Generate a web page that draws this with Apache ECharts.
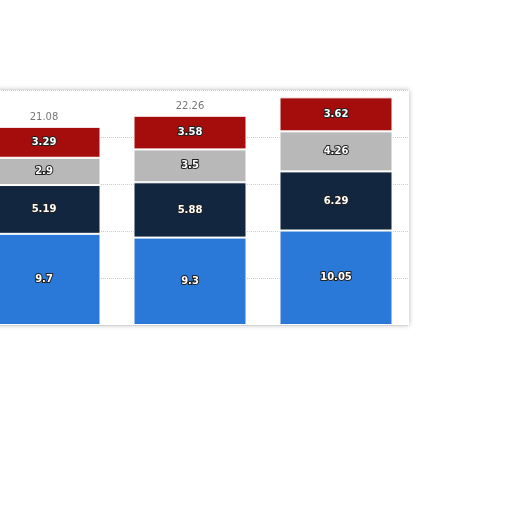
<!DOCTYPE html>
<html>
<head>
<meta charset="utf-8">
<script src="https://cdn.jsdelivr.net/npm/echarts@6/dist/echarts.min.js"></script>
<style>
    html, body { margin: 0; padding: 0; background: #fff; overflow: hidden; }
    /* the photo crops the first column, so the canvas starts a little left of the page */
    #chart { position: absolute; left: -29px; top: 0; width: 541px; height: 512px; }
</style>
</head>
<body>
<div id="chart"></div>
<script>
const categories = ["A", "B", "C"];
const blueValues = [9.7, 9.3, 10.05];
const navyValues = [5.19, 5.88, 6.29];
const grayValues = [2.9, 3.5, 4.26];
const redValues = [3.29, 3.58, 3.62];
const totals = [21.08, 22.26, 24.22];
const showTotal = [true, true, false];

const segLabel = {
    show: true,
    position: "inside",
    color: "#fff",
    fontFamily: "DejaVu Sans",
    fontWeight: "bold",
    fontSize: 10,
    textBorderColor: "#222",
    textBorderWidth: 2
};

function stackSeries(name, data, color) {
    return {
        name,
        type: "bar",
        stack: "total",
        barWidth: 113,
        data,
        itemStyle: { color, borderColor: "#fff", borderWidth: 1 },
        label: segLabel
    };
}

const chart = echarts.init(document.getElementById("chart"));

chart.setOption({
    animation: false,
    backgroundColor: "#fff",
    grid: {
        left: 0, right: 103, top: 90, bottom: 187,
        show: true, backgroundColor: "#fff", borderWidth: 0,
        shadowColor: "rgba(0,0,0,0.3)", shadowBlur: 5
    },
    xAxis: {
        type: "category",
        data: categories,
        axisLine: { show: false },
        axisTick: { show: false },
        axisLabel: { show: false }
    },
    yAxis: {
        type: "value",
        min: 0,
        max: 25,
        interval: 5,
        axisLabel: { show: false },
        axisLine: { show: false },
        axisTick: { show: false },
        splitLine: { lineStyle: { color: "#ccc", type: "dotted" } }
    },
    series: [
        stackSeries("blue", blueValues, "#2a78d8"),
        stackSeries("navy", navyValues, "#12263f"),
        stackSeries("gray", grayValues, "#b8b8b8"),
        stackSeries("red", redValues, "#a50d0d"),
        {
            name: "total",
            type: "scatter",
            symbolSize: 2,
            itemStyle: { color: "rgba(0,0,0,0)" },
            data: totals.map((v, i) => showTotal[i] ? v : "-"),
            label: {
                show: true,
                position: "top",
                distance: 3,
                color: "#555",
                fontFamily: "DejaVu Sans",
                fontSize: 10
            }
        }
    ]
});
</script>
</body>
</html>
